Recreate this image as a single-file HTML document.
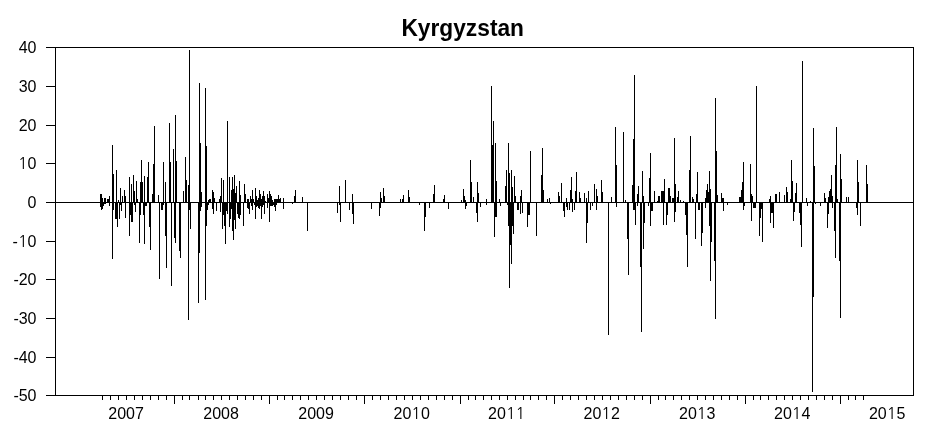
<!DOCTYPE html>
<html><head><meta charset="utf-8"><title>Kyrgyzstan</title>
<style>
html,body{margin:0;padding:0;background:#fff;}
body{width:932px;height:429px;overflow:hidden;}
svg{display:block;}
.title{font-family:"Liberation Sans",Arial,sans-serif;font-weight:bold;font-size:24.6px;fill:#000;}
.n1{font-family:"NanumGothic","Liberation Sans",sans-serif;}
.lab text{font-family:"Liberation Sans",Arial,sans-serif;font-size:16px;fill:#000;}
</style></head>
<body>
<svg width="932" height="429" viewBox="0 0 932 429" shape-rendering="crispEdges">
<rect x="0" y="0" width="932" height="429" fill="#fff"/>
<text transform="translate(462.7,35.8) scale(0.925,1)" text-anchor="middle" class="title">Kyrgyzstan</text>
<g fill="#000">
<rect x="55" y="47" width="859" height="1"/>
<rect x="55" y="395" width="859" height="1"/>
<rect x="55" y="47" width="1" height="349"/>
<rect x="913" y="47" width="1" height="349"/>
<rect x="55" y="202" width="859" height="1"/>
<rect x="46" y="47" width="9" height="1"/><rect x="46" y="86" width="9" height="1"/><rect x="46" y="125" width="9" height="1"/><rect x="46" y="163" width="9" height="1"/><rect x="46" y="202" width="9" height="1"/><rect x="46" y="241" width="9" height="1"/><rect x="46" y="279" width="9" height="1"/><rect x="46" y="318" width="9" height="1"/><rect x="46" y="357" width="9" height="1"/><rect x="46" y="395" width="9" height="1"/>
<rect x="102" y="396" width="1" height="4"/><rect x="110" y="396" width="1" height="4"/><rect x="118" y="396" width="1" height="4"/><rect x="126" y="396" width="1" height="4"/><rect x="134" y="396" width="1" height="4"/><rect x="142" y="396" width="1" height="4"/><rect x="150" y="396" width="1" height="4"/><rect x="158" y="396" width="1" height="4"/><rect x="166" y="396" width="1" height="4"/><rect x="174" y="396" width="1" height="8"/><rect x="182" y="396" width="1" height="4"/><rect x="189" y="396" width="1" height="4"/><rect x="198" y="396" width="1" height="4"/><rect x="205" y="396" width="1" height="4"/><rect x="213" y="396" width="1" height="4"/><rect x="221" y="396" width="1" height="4"/><rect x="229" y="396" width="1" height="4"/><rect x="237" y="396" width="1" height="4"/><rect x="245" y="396" width="1" height="4"/><rect x="253" y="396" width="1" height="4"/><rect x="261" y="396" width="1" height="4"/><rect x="269" y="396" width="1" height="8"/><rect x="277" y="396" width="1" height="4"/><rect x="284" y="396" width="1" height="4"/><rect x="292" y="396" width="1" height="4"/><rect x="300" y="396" width="1" height="4"/><rect x="308" y="396" width="1" height="4"/><rect x="316" y="396" width="1" height="4"/><rect x="324" y="396" width="1" height="4"/><rect x="332" y="396" width="1" height="4"/><rect x="340" y="396" width="1" height="4"/><rect x="348" y="396" width="1" height="4"/><rect x="356" y="396" width="1" height="4"/><rect x="364" y="396" width="1" height="8"/><rect x="372" y="396" width="1" height="4"/><rect x="380" y="396" width="1" height="4"/><rect x="388" y="396" width="1" height="4"/><rect x="396" y="396" width="1" height="4"/><rect x="404" y="396" width="1" height="4"/><rect x="412" y="396" width="1" height="4"/><rect x="420" y="396" width="1" height="4"/><rect x="428" y="396" width="1" height="4"/><rect x="436" y="396" width="1" height="4"/><rect x="444" y="396" width="1" height="4"/><rect x="452" y="396" width="1" height="4"/><rect x="460" y="396" width="1" height="8"/><rect x="468" y="396" width="1" height="4"/><rect x="475" y="396" width="1" height="4"/><rect x="483" y="396" width="1" height="4"/><rect x="491" y="396" width="1" height="4"/><rect x="499" y="396" width="1" height="4"/><rect x="507" y="396" width="1" height="4"/><rect x="515" y="396" width="1" height="4"/><rect x="523" y="396" width="1" height="4"/><rect x="530" y="396" width="1" height="4"/><rect x="538" y="396" width="1" height="4"/><rect x="546" y="396" width="1" height="4"/><rect x="554" y="396" width="1" height="8"/><rect x="562" y="396" width="1" height="4"/><rect x="570" y="396" width="1" height="4"/><rect x="578" y="396" width="1" height="4"/><rect x="586" y="396" width="1" height="4"/><rect x="594" y="396" width="1" height="4"/><rect x="602" y="396" width="1" height="4"/><rect x="610" y="396" width="1" height="4"/><rect x="618" y="396" width="1" height="4"/><rect x="626" y="396" width="1" height="4"/><rect x="634" y="396" width="1" height="4"/><rect x="642" y="396" width="1" height="4"/><rect x="650" y="396" width="1" height="8"/><rect x="658" y="396" width="1" height="4"/><rect x="665" y="396" width="1" height="4"/><rect x="673" y="396" width="1" height="4"/><rect x="681" y="396" width="1" height="4"/><rect x="689" y="396" width="1" height="4"/><rect x="697" y="396" width="1" height="4"/><rect x="705" y="396" width="1" height="4"/><rect x="713" y="396" width="1" height="4"/><rect x="721" y="396" width="1" height="4"/><rect x="729" y="396" width="1" height="4"/><rect x="737" y="396" width="1" height="4"/><rect x="745" y="396" width="1" height="8"/><rect x="753" y="396" width="1" height="4"/><rect x="760" y="396" width="1" height="4"/><rect x="768" y="396" width="1" height="4"/><rect x="776" y="396" width="1" height="4"/><rect x="784" y="396" width="1" height="4"/><rect x="792" y="396" width="1" height="4"/><rect x="800" y="396" width="1" height="4"/><rect x="808" y="396" width="1" height="4"/><rect x="816" y="396" width="1" height="4"/><rect x="824" y="396" width="1" height="4"/><rect x="832" y="396" width="1" height="4"/><rect x="840" y="396" width="1" height="8"/><rect x="848" y="396" width="1" height="4"/><rect x="855" y="396" width="1" height="4"/><rect x="863" y="396" width="1" height="4"/>
</g>
<g fill="#000">
<rect x="100" y="194.0" width="1" height="13.0"/>
<rect x="101" y="194.0" width="1" height="15.5"/>
<rect x="102" y="198.0" width="1" height="11.0"/>
<rect x="103" y="202.0" width="1" height="3.7"/>
<rect x="104" y="198.0" width="1" height="5.6"/>
<rect x="105" y="198.0" width="1" height="5.6"/>
<rect x="107" y="199.3" width="1" height="3.7"/>
<rect x="108" y="199.3" width="1" height="3.7"/>
<rect x="109" y="196.0" width="1" height="9.7"/>
<rect x="112" y="145.0" width="1" height="114.0"/>
<rect x="113" y="174.0" width="1" height="36.0"/>
<rect x="115" y="202.0" width="1" height="16.6"/>
<rect x="116" y="170.3" width="1" height="48.3"/>
<rect x="117" y="202.0" width="1" height="24.7"/>
<rect x="118" y="200.0" width="1" height="3.0"/>
<rect x="119" y="202.0" width="1" height="16.6"/>
<rect x="120" y="188.0" width="1" height="17.0"/>
<rect x="121" y="202.0" width="1" height="9.0"/>
<rect x="122" y="196.0" width="1" height="7.0"/>
<rect x="124" y="190.2" width="1" height="12.8"/>
<rect x="125" y="196.0" width="1" height="21.6"/>
<rect x="127" y="202.0" width="1" height="1.0"/>
<rect x="129" y="177.0" width="1" height="58.6"/>
<rect x="130" y="202.0" width="1" height="13.0"/>
<rect x="131" y="183.8" width="1" height="38.0"/>
<rect x="132" y="202.0" width="1" height="19.8"/>
<rect x="133" y="175.1" width="1" height="27.9"/>
<rect x="134" y="190.7" width="1" height="14.3"/>
<rect x="135" y="202.0" width="1" height="9.7"/>
<rect x="136" y="181.0" width="1" height="22.0"/>
<rect x="137" y="198.8" width="1" height="4.2"/>
<rect x="139" y="202.0" width="1" height="40.8"/>
<rect x="140" y="181.6" width="1" height="33.4"/>
<rect x="141" y="159.9" width="1" height="43.1"/>
<rect x="142" y="182.0" width="1" height="21.0"/>
<rect x="143" y="202.0" width="1" height="13.0"/>
<rect x="144" y="176.2" width="1" height="67.4"/>
<rect x="145" y="202.0" width="1" height="3.7"/>
<rect x="146" y="202.0" width="1" height="3.7"/>
<rect x="147" y="177.0" width="1" height="26.0"/>
<rect x="148" y="162.0" width="1" height="41.0"/>
<rect x="149" y="202.0" width="1" height="24.7"/>
<rect x="150" y="202.0" width="1" height="47.8"/>
<rect x="152" y="194.0" width="1" height="9.0"/>
<rect x="153" y="164.1" width="1" height="38.9"/>
<rect x="154" y="126.0" width="1" height="77.0"/>
<rect x="158" y="195.0" width="1" height="8.0"/>
<rect x="159" y="202.0" width="1" height="77.0"/>
<rect x="161" y="202.0" width="1" height="7.5"/>
<rect x="162" y="202.0" width="1" height="7.5"/>
<rect x="163" y="162.0" width="1" height="43.0"/>
<rect x="165" y="182.0" width="1" height="53.8"/>
<rect x="166" y="202.0" width="1" height="65.8"/>
<rect x="169" y="123.0" width="1" height="80.0"/>
<rect x="170" y="162.0" width="1" height="41.0"/>
<rect x="171" y="202.0" width="1" height="83.8"/>
<rect x="173" y="149.0" width="1" height="54.0"/>
<rect x="174" y="202.0" width="1" height="36.0"/>
<rect x="175" y="115.0" width="1" height="127.8"/>
<rect x="176" y="160.8" width="1" height="42.2"/>
<rect x="179" y="202.0" width="1" height="48.8"/>
<rect x="180" y="202.0" width="1" height="55.8"/>
<rect x="183" y="191.3" width="1" height="11.7"/>
<rect x="185" y="156.8" width="1" height="46.2"/>
<rect x="186" y="180.0" width="1" height="23.0"/>
<rect x="188" y="184.8" width="1" height="134.9"/>
<rect x="189" y="50.0" width="1" height="160.0"/>
<rect x="190" y="202.0" width="1" height="26.8"/>
<rect x="198" y="202.0" width="1" height="101.0"/>
<rect x="199" y="83.2" width="1" height="169.6"/>
<rect x="200" y="143.2" width="1" height="67.8"/>
<rect x="201" y="192.3" width="1" height="14.5"/>
<rect x="205" y="87.9" width="1" height="211.9"/>
<rect x="206" y="146.1" width="1" height="79.9"/>
<rect x="207" y="202.0" width="1" height="8.0"/>
<rect x="208" y="200.4" width="1" height="4.3"/>
<rect x="209" y="199.3" width="1" height="3.7"/>
<rect x="210" y="198.8" width="1" height="4.2"/>
<rect x="212" y="190.2" width="1" height="18.8"/>
<rect x="213" y="191.8" width="1" height="22.0"/>
<rect x="214" y="198.2" width="1" height="4.8"/>
<rect x="216" y="202.0" width="1" height="9.1"/>
<rect x="219" y="199.3" width="1" height="3.7"/>
<rect x="220" y="195.6" width="1" height="15.9"/>
<rect x="221" y="178.1" width="1" height="24.9"/>
<rect x="222" y="202.0" width="1" height="26.7"/>
<rect x="223" y="180.0" width="1" height="35.0"/>
<rect x="224" y="202.0" width="1" height="23.6"/>
<rect x="225" y="202.0" width="1" height="41.8"/>
<rect x="226" y="202.0" width="1" height="9.0"/>
<rect x="227" y="121.0" width="1" height="93.0"/>
<rect x="229" y="177.3" width="1" height="49.7"/>
<rect x="230" y="202.0" width="1" height="17.0"/>
<rect x="231" y="190.4" width="1" height="18.2"/>
<rect x="232" y="176.9" width="1" height="54.1"/>
<rect x="233" y="189.0" width="1" height="50.9"/>
<rect x="234" y="175.1" width="1" height="44.9"/>
<rect x="235" y="193.0" width="1" height="35.8"/>
<rect x="236" y="186.4" width="1" height="16.6"/>
<rect x="237" y="202.0" width="1" height="12.0"/>
<rect x="238" y="202.0" width="1" height="15.8"/>
<rect x="239" y="181.2" width="1" height="37.8"/>
<rect x="240" y="195.0" width="1" height="20.0"/>
<rect x="243" y="201.5" width="1" height="24.1"/>
<rect x="244" y="184.1" width="1" height="18.9"/>
<rect x="245" y="194.0" width="1" height="9.0"/>
<rect x="247" y="199.3" width="1" height="9.1"/>
<rect x="248" y="198.8" width="1" height="10.2"/>
<rect x="249" y="202.0" width="1" height="11.8"/>
<rect x="250" y="196.1" width="1" height="6.9"/>
<rect x="251" y="199.3" width="1" height="6.4"/>
<rect x="252" y="190.2" width="1" height="19.3"/>
<rect x="253" y="199.3" width="1" height="3.7"/>
<rect x="254" y="202.0" width="1" height="2.7"/>
<rect x="255" y="188.0" width="1" height="30.6"/>
<rect x="256" y="196.1" width="1" height="10.7"/>
<rect x="257" y="200.4" width="1" height="5.3"/>
<rect x="258" y="198.2" width="1" height="9.7"/>
<rect x="259" y="190.2" width="1" height="18.8"/>
<rect x="260" y="194.0" width="1" height="11.7"/>
<rect x="261" y="198.8" width="1" height="19.8"/>
<rect x="262" y="196.1" width="1" height="10.7"/>
<rect x="263" y="191.3" width="1" height="13.4"/>
<rect x="264" y="196.1" width="1" height="18.2"/>
<rect x="265" y="201.0" width="1" height="2.0"/>
<rect x="267" y="194.0" width="1" height="13.9"/>
<rect x="268" y="198.2" width="1" height="4.8"/>
<rect x="269" y="190.7" width="1" height="31.1"/>
<rect x="270" y="194.0" width="1" height="11.7"/>
<rect x="271" y="195.6" width="1" height="10.1"/>
<rect x="272" y="200.4" width="1" height="5.3"/>
<rect x="273" y="201.5" width="1" height="3.2"/>
<rect x="274" y="198.8" width="1" height="8.0"/>
<rect x="275" y="199.3" width="1" height="11.3"/>
<rect x="276" y="199.3" width="1" height="5.4"/>
<rect x="277" y="198.8" width="1" height="4.2"/>
<rect x="278" y="195.0" width="1" height="8.0"/>
<rect x="279" y="199.3" width="1" height="3.7"/>
<rect x="280" y="198.2" width="1" height="4.8"/>
<rect x="281" y="201.5" width="1" height="1.5"/>
<rect x="283" y="198.2" width="1" height="10.8"/>
<rect x="292" y="202.0" width="1" height="1.8"/>
<rect x="294" y="195.8" width="1" height="7.2"/>
<rect x="295" y="189.8" width="1" height="13.2"/>
<rect x="302" y="196.8" width="1" height="6.2"/>
<rect x="307" y="202.0" width="1" height="28.7"/>
<rect x="337" y="202.0" width="1" height="11.3"/>
<rect x="339" y="185.9" width="1" height="19.0"/>
<rect x="340" y="202.0" width="1" height="19.5"/>
<rect x="345" y="180.0" width="1" height="23.0"/>
<rect x="349" y="202.0" width="1" height="7.7"/>
<rect x="352" y="194.1" width="1" height="19.4"/>
<rect x="353" y="202.0" width="1" height="22.2"/>
<rect x="371" y="202.0" width="1" height="6.6"/>
<rect x="379" y="202.0" width="1" height="13.5"/>
<rect x="380" y="192.0" width="1" height="16.4"/>
<rect x="381" y="197.9" width="1" height="5.1"/>
<rect x="383" y="188.2" width="1" height="14.8"/>
<rect x="384" y="195.8" width="1" height="7.2"/>
<rect x="400" y="199.1" width="1" height="3.9"/>
<rect x="402" y="199.1" width="1" height="3.9"/>
<rect x="403" y="195.0" width="1" height="8.0"/>
<rect x="408" y="190.0" width="1" height="13.0"/>
<rect x="409" y="197.0" width="1" height="6.0"/>
<rect x="419" y="202.0" width="1" height="2.9"/>
<rect x="424" y="202.0" width="1" height="28.7"/>
<rect x="425" y="202.0" width="1" height="14.5"/>
<rect x="429" y="202.0" width="1" height="5.7"/>
<rect x="433" y="194.0" width="1" height="9.0"/>
<rect x="434" y="185.1" width="1" height="17.9"/>
<rect x="443" y="199.3" width="1" height="3.7"/>
<rect x="444" y="195.0" width="1" height="8.0"/>
<rect x="448" y="202.0" width="1" height="6.7"/>
<rect x="461" y="200.4" width="1" height="2.6"/>
<rect x="463" y="189.1" width="1" height="13.9"/>
<rect x="464" y="196.1" width="1" height="6.9"/>
<rect x="465" y="199.9" width="1" height="8.9"/>
<rect x="466" y="202.0" width="1" height="3.7"/>
<rect x="470" y="159.9" width="1" height="43.1"/>
<rect x="471" y="181.6" width="1" height="21.4"/>
<rect x="473" y="197.0" width="1" height="6.0"/>
<rect x="476" y="202.0" width="1" height="10.7"/>
<rect x="477" y="182.0" width="1" height="39.6"/>
<rect x="478" y="192.9" width="1" height="10.1"/>
<rect x="480" y="202.0" width="1" height="4.8"/>
<rect x="486" y="199.3" width="1" height="5.4"/>
<rect x="491" y="86.0" width="1" height="117.0"/>
<rect x="492" y="145.0" width="1" height="58.0"/>
<rect x="493" y="121.0" width="1" height="82.0"/>
<rect x="494" y="202.0" width="1" height="34.6"/>
<rect x="495" y="143.0" width="1" height="74.0"/>
<rect x="496" y="181.0" width="1" height="36.0"/>
<rect x="499" y="199.3" width="1" height="3.7"/>
<rect x="500" y="202.0" width="1" height="3.7"/>
<rect x="505" y="186.4" width="1" height="16.6"/>
<rect x="506" y="170.0" width="1" height="33.0"/>
<rect x="507" y="202.0" width="1" height="2.7"/>
<rect x="508" y="143.1" width="1" height="82.9"/>
<rect x="509" y="173.0" width="1" height="114.8"/>
<rect x="510" y="202.0" width="1" height="42.7"/>
<rect x="511" y="170.0" width="1" height="94.0"/>
<rect x="512" y="187.0" width="1" height="39.0"/>
<rect x="513" y="202.0" width="1" height="31.7"/>
<rect x="514" y="176.2" width="1" height="26.8"/>
<rect x="515" y="196.0" width="1" height="7.0"/>
<rect x="517" y="202.0" width="1" height="7.5"/>
<rect x="518" y="202.0" width="1" height="7.5"/>
<rect x="520" y="196.0" width="1" height="18.3"/>
<rect x="521" y="190.2" width="1" height="12.8"/>
<rect x="522" y="202.0" width="1" height="11.3"/>
<rect x="527" y="202.0" width="1" height="24.7"/>
<rect x="528" y="202.0" width="1" height="13.0"/>
<rect x="529" y="202.0" width="1" height="13.4"/>
<rect x="530" y="151.0" width="1" height="52.0"/>
<rect x="534" y="201.5" width="1" height="1.5"/>
<rect x="536" y="202.0" width="1" height="33.9"/>
<rect x="541" y="175.1" width="1" height="27.9"/>
<rect x="542" y="148.1" width="1" height="54.9"/>
<rect x="543" y="190.2" width="1" height="12.8"/>
<rect x="547" y="199.3" width="1" height="3.7"/>
<rect x="549" y="198.2" width="1" height="4.8"/>
<rect x="550" y="202.0" width="1" height="2.1"/>
<rect x="558" y="192.3" width="1" height="10.7"/>
<rect x="559" y="196.1" width="1" height="6.9"/>
<rect x="561" y="183.2" width="1" height="19.8"/>
<rect x="563" y="202.0" width="1" height="9.1"/>
<rect x="564" y="202.0" width="1" height="14.5"/>
<rect x="565" y="201.5" width="1" height="1.5"/>
<rect x="566" y="198.2" width="1" height="8.6"/>
<rect x="567" y="202.0" width="1" height="7.5"/>
<rect x="569" y="202.0" width="1" height="7.5"/>
<rect x="570" y="190.2" width="1" height="12.8"/>
<rect x="571" y="177.0" width="1" height="26.0"/>
<rect x="572" y="199.3" width="1" height="12.4"/>
<rect x="574" y="202.0" width="1" height="7.5"/>
<rect x="575" y="191.3" width="1" height="11.7"/>
<rect x="576" y="171.9" width="1" height="31.1"/>
<rect x="579" y="192.3" width="1" height="10.7"/>
<rect x="580" y="198.2" width="1" height="4.8"/>
<rect x="584" y="193.4" width="1" height="9.6"/>
<rect x="586" y="198.2" width="1" height="44.4"/>
<rect x="587" y="202.0" width="1" height="21.0"/>
<rect x="588" y="191.3" width="1" height="11.7"/>
<rect x="590" y="202.0" width="1" height="7.5"/>
<rect x="592" y="202.0" width="1" height="3.7"/>
<rect x="594" y="184.3" width="1" height="18.7"/>
<rect x="596" y="189.1" width="1" height="20.4"/>
<rect x="597" y="196.1" width="1" height="6.9"/>
<rect x="601" y="179.9" width="1" height="23.1"/>
<rect x="602" y="192.3" width="1" height="10.7"/>
<rect x="608" y="202.0" width="1" height="132.8"/>
<rect x="611" y="197.2" width="1" height="5.8"/>
<rect x="615" y="127.0" width="1" height="76.0"/>
<rect x="616" y="165.1" width="1" height="42.3"/>
<rect x="623" y="131.9" width="1" height="71.1"/>
<rect x="625" y="199.8" width="1" height="3.2"/>
<rect x="627" y="202.0" width="1" height="36.6"/>
<rect x="628" y="202.0" width="1" height="72.7"/>
<rect x="632" y="184.8" width="1" height="18.2"/>
<rect x="633" y="139.1" width="1" height="70.9"/>
<rect x="634" y="75.0" width="1" height="135.0"/>
<rect x="635" y="202.0" width="1" height="22.7"/>
<rect x="637" y="194.0" width="1" height="11.7"/>
<rect x="638" y="185.9" width="1" height="17.1"/>
<rect x="640" y="202.0" width="1" height="65.4"/>
<rect x="641" y="202.0" width="1" height="129.6"/>
<rect x="642" y="171.1" width="1" height="31.9"/>
<rect x="643" y="196.1" width="1" height="52.7"/>
<rect x="644" y="202.0" width="1" height="21.0"/>
<rect x="648" y="202.0" width="1" height="4.3"/>
<rect x="649" y="177.8" width="1" height="25.2"/>
<rect x="650" y="153.1" width="1" height="72.4"/>
<rect x="651" y="202.0" width="1" height="9.0"/>
<rect x="652" y="202.0" width="1" height="9.1"/>
<rect x="654" y="190.7" width="1" height="12.3"/>
<rect x="657" y="200.9" width="1" height="2.1"/>
<rect x="658" y="196.1" width="1" height="6.9"/>
<rect x="659" y="196.1" width="1" height="6.9"/>
<rect x="661" y="190.7" width="1" height="12.3"/>
<rect x="662" y="190.7" width="1" height="12.3"/>
<rect x="663" y="190.7" width="1" height="33.9"/>
<rect x="664" y="179.0" width="1" height="24.0"/>
<rect x="666" y="202.0" width="1" height="23.2"/>
<rect x="667" y="202.0" width="1" height="13.0"/>
<rect x="668" y="188.0" width="1" height="15.0"/>
<rect x="669" y="188.0" width="1" height="15.0"/>
<rect x="670" y="196.1" width="1" height="6.9"/>
<rect x="672" y="198.2" width="1" height="4.8"/>
<rect x="673" y="198.2" width="1" height="4.8"/>
<rect x="674" y="138.1" width="1" height="83.7"/>
<rect x="675" y="184.3" width="1" height="27.9"/>
<rect x="677" y="197.2" width="1" height="5.8"/>
<rect x="678" y="190.7" width="1" height="12.3"/>
<rect x="680" y="199.8" width="1" height="3.2"/>
<rect x="683" y="200.9" width="1" height="2.1"/>
<rect x="685" y="202.0" width="1" height="13.0"/>
<rect x="686" y="202.0" width="1" height="32.7"/>
<rect x="687" y="202.0" width="1" height="64.8"/>
<rect x="689" y="170.0" width="1" height="33.0"/>
<rect x="690" y="136.0" width="1" height="67.0"/>
<rect x="692" y="196.6" width="1" height="6.4"/>
<rect x="693" y="199.3" width="1" height="3.7"/>
<rect x="695" y="202.0" width="1" height="36.6"/>
<rect x="696" y="194.0" width="1" height="9.0"/>
<rect x="697" y="171.9" width="1" height="31.1"/>
<rect x="698" y="202.0" width="1" height="7.5"/>
<rect x="699" y="202.0" width="1" height="7.5"/>
<rect x="701" y="202.0" width="1" height="43.6"/>
<rect x="702" y="202.0" width="1" height="31.3"/>
<rect x="705" y="198.2" width="1" height="10.2"/>
<rect x="706" y="190.0" width="1" height="13.0"/>
<rect x="707" y="184.3" width="1" height="18.7"/>
<rect x="708" y="192.0" width="1" height="11.0"/>
<rect x="709" y="171.1" width="1" height="54.9"/>
<rect x="710" y="189.0" width="1" height="91.8"/>
<rect x="711" y="202.0" width="1" height="39.8"/>
<rect x="714" y="202.0" width="1" height="59.4"/>
<rect x="715" y="98.0" width="1" height="221.4"/>
<rect x="716" y="151.0" width="1" height="52.0"/>
<rect x="717" y="195.0" width="1" height="8.0"/>
<rect x="721" y="192.9" width="1" height="10.1"/>
<rect x="722" y="198.2" width="1" height="4.8"/>
<rect x="723" y="198.2" width="1" height="12.9"/>
<rect x="727" y="202.0" width="1" height="2.7"/>
<rect x="739" y="196.6" width="1" height="6.4"/>
<rect x="740" y="196.6" width="1" height="6.4"/>
<rect x="741" y="190.2" width="1" height="12.8"/>
<rect x="742" y="181.8" width="1" height="21.2"/>
<rect x="743" y="162.2" width="1" height="47.3"/>
<rect x="744" y="202.0" width="1" height="3.7"/>
<rect x="750" y="164.0" width="1" height="39.0"/>
<rect x="751" y="194.0" width="1" height="27.3"/>
<rect x="752" y="196.1" width="1" height="6.9"/>
<rect x="753" y="202.0" width="1" height="5.8"/>
<rect x="754" y="202.0" width="1" height="6.4"/>
<rect x="755" y="202.0" width="1" height="5.8"/>
<rect x="756" y="85.8" width="1" height="117.2"/>
<rect x="759" y="202.0" width="1" height="33.7"/>
<rect x="760" y="202.0" width="1" height="16.0"/>
<rect x="761" y="202.0" width="1" height="7.0"/>
<rect x="762" y="202.0" width="1" height="39.8"/>
<rect x="769" y="199.3" width="1" height="3.7"/>
<rect x="770" y="196.1" width="1" height="26.4"/>
<rect x="771" y="202.0" width="1" height="10.5"/>
<rect x="772" y="202.0" width="1" height="10.5"/>
<rect x="773" y="202.0" width="1" height="25.6"/>
<rect x="775" y="194.0" width="1" height="9.0"/>
<rect x="776" y="194.0" width="1" height="9.0"/>
<rect x="779" y="191.8" width="1" height="11.2"/>
<rect x="784" y="195.0" width="1" height="8.0"/>
<rect x="786" y="187.0" width="1" height="16.0"/>
<rect x="787" y="191.8" width="1" height="11.2"/>
<rect x="790" y="199.3" width="1" height="3.7"/>
<rect x="791" y="159.9" width="1" height="43.1"/>
<rect x="792" y="181.0" width="1" height="22.0"/>
<rect x="793" y="202.0" width="1" height="18.8"/>
<rect x="794" y="202.0" width="1" height="9.7"/>
<rect x="795" y="193.4" width="1" height="9.6"/>
<rect x="796" y="183.2" width="1" height="19.8"/>
<rect x="799" y="202.0" width="1" height="11.3"/>
<rect x="800" y="202.0" width="1" height="22.7"/>
<rect x="801" y="202.0" width="1" height="44.7"/>
<rect x="802" y="61.1" width="1" height="141.9"/>
<rect x="806" y="198.2" width="1" height="4.8"/>
<rect x="807" y="202.0" width="1" height="4.3"/>
<rect x="810" y="201.0" width="1" height="2.0"/>
<rect x="812" y="202.0" width="1" height="189.7"/>
<rect x="813" y="128.0" width="1" height="168.8"/>
<rect x="814" y="166.0" width="1" height="37.0"/>
<rect x="815" y="202.0" width="1" height="1.6"/>
<rect x="820" y="202.0" width="1" height="4.3"/>
<rect x="824" y="192.9" width="1" height="10.1"/>
<rect x="825" y="198.2" width="1" height="4.8"/>
<rect x="827" y="202.0" width="1" height="25.9"/>
<rect x="828" y="197.2" width="1" height="17.1"/>
<rect x="829" y="190.7" width="1" height="12.3"/>
<rect x="830" y="189.1" width="1" height="13.9"/>
<rect x="831" y="175.1" width="1" height="27.9"/>
<rect x="832" y="196.1" width="1" height="11.8"/>
<rect x="834" y="202.0" width="1" height="28.6"/>
<rect x="835" y="165.1" width="1" height="92.9"/>
<rect x="836" y="127.0" width="1" height="76.0"/>
<rect x="837" y="199.3" width="1" height="3.7"/>
<rect x="839" y="202.0" width="1" height="58.6"/>
<rect x="840" y="154.0" width="1" height="163.7"/>
<rect x="841" y="179.2" width="1" height="23.8"/>
<rect x="846" y="197.2" width="1" height="5.8"/>
<rect x="848" y="197.2" width="1" height="5.8"/>
<rect x="856" y="202.0" width="1" height="6.4"/>
<rect x="857" y="160.1" width="1" height="54.8"/>
<rect x="858" y="182.1" width="1" height="20.9"/>
<rect x="860" y="202.0" width="1" height="23.8"/>
<rect x="866" y="165.1" width="1" height="37.9"/>
<rect x="867" y="184.3" width="1" height="18.7"/>
</g>
<g class="lab">
<text x="36.5" y="53" text-anchor="end">40</text><text x="36.5" y="92" text-anchor="end">30</text><text x="36.5" y="131" text-anchor="end">20</text><text x="36.5" y="169" text-anchor="end"><tspan class="n1">1</tspan>0</text><text x="36.5" y="208" text-anchor="end">0</text><text x="36.5" y="247" text-anchor="end">-<tspan class="n1">1</tspan>0</text><text x="36.5" y="285" text-anchor="end">-20</text><text x="36.5" y="324" text-anchor="end">-30</text><text x="36.5" y="363" text-anchor="end">-40</text><text x="36.5" y="401" text-anchor="end">-50</text>
<text x="126.1" y="418.5" text-anchor="middle">2007</text><text x="221.1" y="418.5" text-anchor="middle">2008</text><text x="316.1" y="418.5" text-anchor="middle">2009</text><text x="411.7" y="418.5" text-anchor="middle">20<tspan class="n1">1</tspan>0</text><text x="506.7" y="418.5" text-anchor="middle">20<tspan class="n1">1</tspan><tspan class="n1">1</tspan></text><text x="601.7" y="418.5" text-anchor="middle">20<tspan class="n1">1</tspan>2</text><text x="697.2" y="418.5" text-anchor="middle">20<tspan class="n1">1</tspan>3</text><text x="792.2" y="418.5" text-anchor="middle">20<tspan class="n1">1</tspan>4</text><text x="887.1" y="418.5" text-anchor="middle">20<tspan class="n1">1</tspan>5</text>
</g>
</svg>
</body></html>
